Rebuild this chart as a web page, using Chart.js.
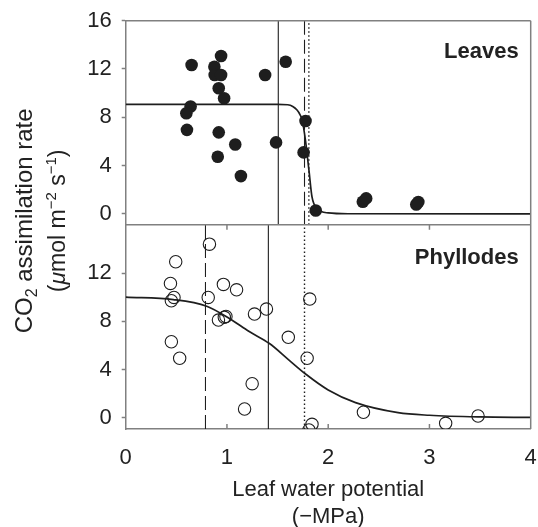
<!DOCTYPE html>
<html>
<head>
<meta charset="utf-8">
<script src="https://cdn.jsdelivr.net/npm/chart.js@4.4.1/dist/chart.umd.min.js"></script>
<style>
  html, body { margin: 0; padding: 0; background: #fff; }
  #wrap { width: 538px; height: 527px; }
</style>
</head>
<body>
<div id="wrap"><canvas id="chart" width="538" height="527"></canvas></div>
<script>
// Axis ticks
const xTicks = [0, 1, 2, 3, 4];
const topYTicks = [0, 4, 8, 12, 16];
const bottomYTicks = [0, 4, 8, 12];

// Leaves (top panel) - filled circles
const leavesX = [0.942, 0.651, 0.876, 0.879, 0.942, 1.58, 1.377, 0.919, 0.972, 0.641, 0.599, 0.605,
                 0.919, 1.082, 1.485, 0.909, 1.138, 1.776, 1.757, 1.877, 2.342, 2.375, 2.87, 2.89];
const leavesY = [13.08, 12.33, 12.19, 11.50, 11.50, 12.60, 11.50, 10.40, 9.57, 8.89, 8.34, 6.96,
                 6.75, 5.75, 5.92, 4.73, 3.13, 7.69, 5.09, 0.28, 1.00, 1.28, 0.78, 0.98];
const leavesCurveX = [0, 1.50, 1.60, 1.65, 1.69, 1.72, 1.745, 1.775, 1.81, 1.84, 1.89, 2.0, 2.2, 4.0];
const leavesCurveY = [9.07, 9.07, 9.04, 8.9, 8.62, 8.25, 7.7, 6.1, 3.6, 1.4, 0.45, 0.08, 0.01, 0];
// vertical reference lines: solid, dashed, dotted
const leavesLineX = [1.507, 1.766, 1.809];

// Phyllodes (bottom panel) - open circles
const phyllodesX = [0.827, 0.494, 0.442, 0.477, 0.451, 0.815, 0.965, 1.095, 0.916, 0.974, 0.99, 1.272,
                    1.39, 1.606, 0.451, 0.533, 1.249, 1.174, 1.818, 1.792, 1.81, 1.84, 2.348, 3.16, 3.48];
const phyllodesY = [14.40, 12.94, 11.14, 9.98, 9.70, 9.98, 11.06, 10.61, 8.10, 8.33, 8.40, 8.60,
                    9.01, 6.67, 6.30, 4.93, 2.82, 0.72, 9.84, 4.93, -1.02, -0.55, 0.45, -0.47, 0.14];
const phyllodesCurveX = [0, 0.47, 0.8, 1.02, 1.22, 1.42, 1.61, 1.78, 2.0, 2.27, 2.69, 3.0, 3.5, 4.0];
const phyllodesCurveY = [10.0, 9.8, 9.25, 8.25, 7.15, 6.15, 4.8, 3.6, 2.3, 1.25, 0.42, 0.2, 0.06, 0.02];
// vertical reference lines: dashed, solid, dotted
const phyllodesLineX = [0.788, 1.409, 1.766];

const TOP_MIN = -0.91, TOP_MAX = 16;
const BOT_MIN = -0.94, BOT_MAX = 16;

const FONT = "'Liberation Sans', Arial, Helvetica, sans-serif";
const AXIS_COLOR = '#808080';
const INK = '#1e1e1e';
const TEXT = '#222';
const DOTTED = [1.5, 2.5];
const DASHED = [14, 5];

const toPoints = (xs, ys) => xs.map((x, i) => ({ x: x, y: ys[i] }));

function vline(x, axisId, min, max, dash) {
    return {
        type: 'line',
        data: [{ x: x, y: min }, { x: x, y: max }],
        yAxisID: axisId,
        borderColor: INK,
        borderWidth: dash === DOTTED ? 1.4 : 1.1,
        borderDash: dash,
        pointRadius: 0,
        fill: false
    };
}

// frame, inner ticks, panel names, y title
const panelDecor = {
    id: 'panelDecor',
    afterDraw(chart) {
        const { ctx } = chart;
        const x = chart.scales.x, yt = chart.scales.yTop, yb = chart.scales.yBottom;
        ctx.save();
        ctx.strokeStyle = AXIS_COLOR;
        ctx.lineWidth = 1.5;
        ctx.beginPath();
        ctx.moveTo(x.left, yt.top); ctx.lineTo(x.right, yt.top);
        ctx.moveTo(x.left, yt.bottom); ctx.lineTo(x.right, yt.bottom);
        ctx.moveTo(x.right, yt.top); ctx.lineTo(x.right, yb.bottom);
        xTicks.slice(1, -1).forEach(v => {
            const px = x.getPixelForValue(v);
            ctx.moveTo(px, yb.bottom); ctx.lineTo(px, yb.bottom - 5);
            ctx.moveTo(px, yb.top); ctx.lineTo(px, yb.top + 5);
        });
        ctx.stroke();

        ctx.fillStyle = TEXT;
        ctx.font = 'bold 22px ' + FONT;
        ctx.textAlign = 'right';
        ctx.textBaseline = 'alphabetic';
        ctx.fillText('Leaves', x.right - 12, yt.getPixelForValue(12.9));
        ctx.fillText('Phyllodes', x.right - 12, yb.getPixelForValue(12.74));

        // rotated y title with sub/superscripts
        const cy = (yt.top + yb.bottom) / 2 - 4;
        drawRotatedLine(ctx, [
            { t: 'CO', f: '24px ' + FONT, dy: 0 },
            { t: '2', f: '16px ' + FONT, dy: 5 },
            { t: ' assimilation rate', f: '24px ' + FONT, dy: 0 }
        ], 32, cy);
        drawRotatedLine(ctx, [
            { t: '(', f: '23px ' + FONT, dy: 0 },
            { t: '\u03bc', f: 'italic 23px ' + FONT, dy: 0 },
            { t: 'mol m', f: '23px ' + FONT, dy: 0 },
            { t: '\u22122', f: '15px ' + FONT, dy: -9 },
            { t: ' s', f: '23px ' + FONT, dy: 0 },
            { t: '\u22121', f: '15px ' + FONT, dy: -9 },
            { t: ')', f: '23px ' + FONT, dy: 0 }
        ], 65, cy);
        ctx.restore();
    }
};

function drawRotatedLine(ctx, parts, bx, cy) {
    ctx.save();
    ctx.translate(bx, cy);
    ctx.rotate(-Math.PI / 2);
    ctx.textAlign = 'left';
    ctx.textBaseline = 'alphabetic';
    let total = 0;
    parts.forEach(p => { ctx.font = p.f; p.w = ctx.measureText(p.t).width; total += p.w; });
    let pos = -total / 2;
    parts.forEach(p => {
        ctx.font = p.f;
        ctx.fillText(p.t, pos, p.dy);
        pos += p.w;
    });
    ctx.restore();
}

function zeroPadding(axis) {
    axis.paddingLeft = 0; axis.paddingRight = 0;
    axis.paddingTop = 0; axis.paddingBottom = 0;
}

function yAxis(min, max, tickList, weight) {
    return {
        type: 'linear',
        position: 'left',
        stack: 'panels',
        weight: weight,
        min: min,
        max: max,
        afterBuildTicks: axis => { axis.ticks = tickList.map(v => ({ value: v })); },
        afterFit: axis => { axis.width = 125.7; zeroPadding(axis); },
        ticks: { font: { family: FONT, size: 22 }, color: TEXT, padding: 10 },
        grid: { drawOnChartArea: false, drawTicks: true, tickLength: 4, color: AXIS_COLOR, tickWidth: 1.5 },
        border: { display: true, color: AXIS_COLOR, width: 1.5 }
    };
}

new Chart(document.getElementById('chart'), {
    type: 'scatter',
    data: {
        datasets: [
            {
                label: 'Leaves',
                data: toPoints(leavesX, leavesY),
                yAxisID: 'yTop',
                pointRadius: 6.3,
                pointBackgroundColor: INK,
                pointBorderColor: INK,
                pointBorderWidth: 0
            },
            {
                type: 'line',
                data: toPoints(leavesCurveX, leavesCurveY),
                yAxisID: 'yTop',
                borderColor: INK,
                borderWidth: 1.7,
                pointRadius: 0,
                cubicInterpolationMode: 'monotone',
                fill: false
            },
            vline(leavesLineX[0], 'yTop', TOP_MIN, TOP_MAX, []),
            vline(leavesLineX[1], 'yTop', TOP_MIN, TOP_MAX, DASHED),
            vline(leavesLineX[2], 'yTop', TOP_MIN, TOP_MAX, DOTTED),
            {
                label: 'Phyllodes',
                data: toPoints(phyllodesX, phyllodesY),
                yAxisID: 'yBottom',
                pointRadius: 6.2,
                pointBackgroundColor: 'rgba(0,0,0,0)',
                pointBorderColor: INK,
                pointBorderWidth: 1.1
            },
            {
                type: 'line',
                data: toPoints(phyllodesCurveX, phyllodesCurveY),
                yAxisID: 'yBottom',
                borderColor: INK,
                borderWidth: 1.7,
                pointRadius: 0,
                cubicInterpolationMode: 'monotone',
                fill: false
            },
            vline(phyllodesLineX[0], 'yBottom', BOT_MIN, BOT_MAX, DASHED),
            vline(phyllodesLineX[1], 'yBottom', BOT_MIN, BOT_MAX, []),
            vline(phyllodesLineX[2], 'yBottom', BOT_MIN, BOT_MAX, DOTTED)
        ]
    },
    options: {
        responsive: false,
        animation: false,
        layout: { padding: { top: 20.7, right: 4.7, bottom: 0, left: 0 } },
        plugins: { legend: { display: false }, tooltip: { enabled: false } },
        scales: {
            x: {
                type: 'linear',
                min: 0,
                max: 4,
                afterBuildTicks: axis => { axis.ticks = xTicks.map(v => ({ value: v })); },
                afterFit: axis => { axis.height = 98; zeroPadding(axis); },
                ticks: { font: { family: FONT, size: 22 }, color: TEXT, padding: 16 },
                grid: { display: false, drawTicks: false },
                border: { display: true, color: AXIS_COLOR, width: 1.5 },
                title: {
                    display: true,
                    text: ['Leaf water potential', '(\u2212MPa)'],
                    font: { family: FONT, size: 22, lineHeight: 1.2 },
                    color: TEXT,
                    padding: { top: 0, bottom: -3 }
                }
            },
            yBottom: yAxis(BOT_MIN, BOT_MAX, bottomYTicks, 1),
            yTop: yAxis(TOP_MIN, TOP_MAX, topYTicks, 2)
        }
    },
    plugins: [panelDecor]
});
</script>
</body>
</html>
